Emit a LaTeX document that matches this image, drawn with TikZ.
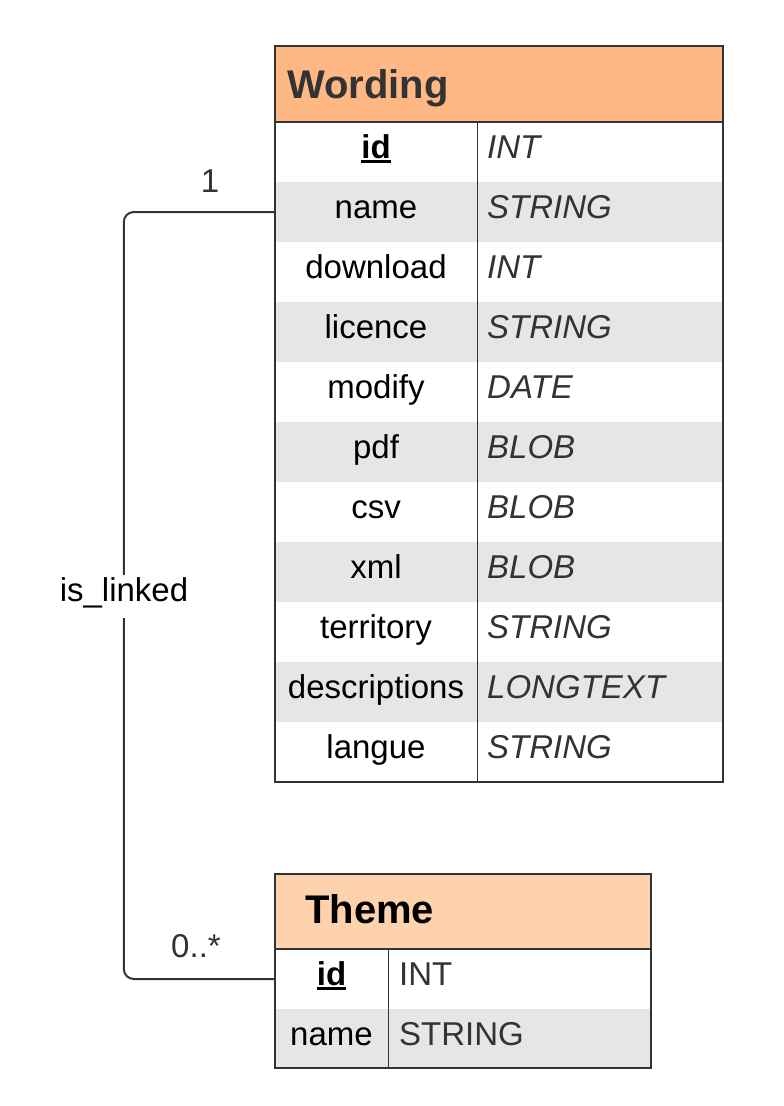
\documentclass[tikz,border=0pt]{standalone}
\usepackage{fontspec}
\setmainfont{Liberation Sans}
\usetikzlibrary{calc}
\definecolor{wordhead}{HTML}{FFB784}
\definecolor{themehead}{HTML}{FFD2AE}
\definecolor{rowgrey}{HTML}{E6E6E6}
\definecolor{ink}{HTML}{333333}
\newcommand\pkey[1]{\setbox0\hbox{\bfseries #1}\rlap{\rule[-5pt]{\wd0}{3pt}}\box0}
\tikzset{
  rowbox/.style={inner sep=0pt, minimum height=60pt},
  field/.style={inner sep=0pt, anchor=base, font=\fontsize{33}{40}\selectfont},
  ftype/.style={inner sep=0pt, anchor=base west, text=ink, font=\fontsize{33}{40}\selectfont},
  ftypeit/.style={ftype, font=\fontsize{33}{40}\selectfont\itshape},
  title/.style={inner sep=0pt, anchor=base west, font=\fontsize{40}{48}\selectfont\bfseries},
  card/.style={draw=ink, line width=2pt},
  link/.style={draw=ink, line width=2pt, rounded corners=10pt},
  mult/.style={inner sep=0pt, anchor=base, text=ink, font=\fontsize{33}{40}\selectfont},
}
\begin{document}
\begin{tikzpicture}[x=1pt,y=-1pt]
\useasboundingbox (0,0) rectangle (784,1106);
% Wording table
\fill[wordhead] (275,46) rectangle (723,122);
\foreach \f/\t [count=\i from 0] in {\pkey{id}/INT, name/STRING, download/INT,
    licence/STRING, modify/DATE, pdf/BLOB, csv/BLOB, xml/BLOB,
    territory/STRING, descriptions/LONGTEXT, langue/STRING}{
  \pgfmathsetmacro\shade{mod(\i,2)==1 ? "rowgrey" : "white"}
  \node[rowbox, fill=\shade, minimum width=448pt] (wr-\i) at (499,{152+60*\i}) {};
  \node[field] (wf-\i) at (376,{158+60*\i}) {\f};
  \node[ftypeit] (wt-\i) at (487,{158+60*\i}) {\t};
}
\draw[ink, line width=1pt] (477,122) -- (477,782);
\draw[card] (275,46) rectangle (723,782);
\draw[card] (275,122) -- (723,122);
\node[title, text=ink] (wording) at (287,98) {Wording};
% Theme table
\fill[themehead] (275,874) rectangle (651,949);
\foreach \f/\t [count=\i from 0] in {\pkey{id}/INT, name/STRING}{
  \pgfmathsetmacro\shade{mod(\i,2)==1 ? "rowgrey" : "white"}
  \node[rowbox, fill=\shade, minimum width=376pt] (tr-\i) at (463,{979+60*\i}) {};
  \node[field] (tf-\i) at (331.5,{985+60*\i}) {\f};
  \node[ftype] (tt-\i) at (399,{985+60*\i}) {\t};
}
\draw[ink, line width=1pt] (388,949) -- (388,1068);
\draw[card] (275,874) rectangle (651,1068);
\draw[card] (275,949) -- (651,949);
\node[title] (theme) at (305,923) {Theme};
% relation
\draw[link] (wr-1.west) -- ++(-151,0) |- (tr-0.west);
\node[mult] (one) at (210,192) {1};
\node[mult] (many) at (196,957) {0..*};
\node[field, fill=white, inner xsep=1pt, text height=26pt, text depth=17pt] (rel) at (124,601) {is\_linked};
\end{tikzpicture}
\end{document}
